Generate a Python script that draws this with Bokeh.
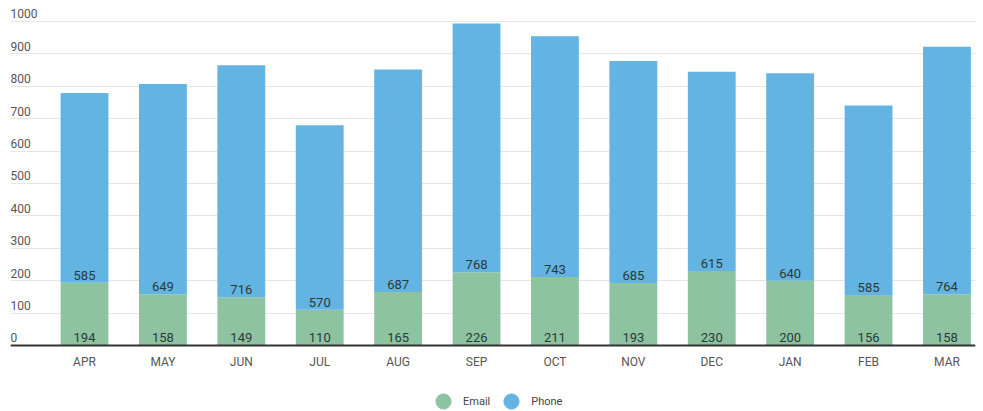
from bokeh.plotting import figure
from bokeh.models import ColumnDataSource, FixedTicker, Legend, LegendItem, Range1d, Span
from bokeh.core.properties import value
from bokeh.embed import file_html
from bokeh.resources import INLINE

months = ["APR", "MAY", "JUN", "JUL", "AUG", "SEP", "OCT", "NOV", "DEC", "JAN", "FEB", "MAR"]
email = [194, 158, 149, 110, 165, 226, 211, 193, 230, 200, 156, 158]
phone = [585, 649, 716, 570, 687, 768, 743, 685, 615, 640, 585, 764]
y_ticks = [0, 100, 200, 300, 400, 500, 600, 700, 800, 900, 1000]

GREEN = "#8ec3a1"
BLUE = "#63b4e3"
FONT = "Roboto"
X0, X1 = -0.944, 11.364

idx = list(range(len(months)))
src = ColumnDataSource(dict(
    x=idx, email=email, phone=phone, month=months,
    email_lbl=[str(v) for v in email],
    phone_lbl=[str(v) for v in phone],
    zero=[0] * len(months),
))

p = figure(width=983, height=411, output_backend="svg", toolbar_location=None,
           x_range=Range1d(X0, X1), y_range=Range1d(-203.7, 1040),
           x_axis_location=None, y_axis_location=None,
           min_border_left=10, min_border_right=8, min_border_top=8, min_border_bottom=0)
p.outline_line_color = None
p.background_fill_color = "white"

# grid
p.ygrid.ticker = FixedTicker(ticks=y_ticks)
p.ygrid.grid_line_color = "#e6e6e6"
p.ygrid.grid_line_width = 1
p.ygrid.bounds = (0, 1000)
p.xgrid.visible = False

# bars
p.vbar_stack(["email", "phone"], x="x", width=0.61, source=src,
             color=[GREEN, BLUE], line_color=None)

# baseline (x axis line)
p.add_layout(Span(location=0, dimension="width", line_color="#333333", line_width=2))

# bar labels
p.text(x="x", y="zero", text="email_lbl", source=src, text_align="center",
       text_baseline="bottom", y_offset=-3, text_font=value(FONT),
       text_font_size="13px", text_color="#2b3a36")
p.text(x="x", y="email", text="phone_lbl", source=src, text_align="center",
       text_baseline="bottom", y_offset=-3, text_font=value(FONT),
       text_font_size="13px", text_color="#2b3a36")

# month labels under the baseline
p.text(x="x", y="zero", text="month", source=src, text_align="center",
       text_baseline="alphabetic", y_offset=17, text_font=value(FONT),
       text_font_size="12px", text_color="#555555")

# y tick labels inside plot, left aligned above grid lines
ysrc = ColumnDataSource(dict(y=y_ticks, t=[str(v) for v in y_ticks],
                             x=[X0] * len(y_ticks)))
p.text(x="x", y="y", text="t", source=ysrc, text_align="left", text_baseline="bottom",
       y_offset=-3, text_font=value(FONT), text_font_size="12px", text_color="#555555")

# legend with circle markers
nan = float("nan")
r_email = p.scatter(x=[nan], y=[nan], marker="circle", size=15, color=GREEN)
r_phone = p.scatter(x=[nan], y=[nan], marker="circle", size=15, color=BLUE)
legend = Legend(items=[LegendItem(label="Email", renderers=[r_email]),
                       LegendItem(label="Phone", renderers=[r_phone])],
                orientation="horizontal", location=(414, -9),
                label_text_font=FONT, label_text_font_size="11px",
                label_text_color="#444444", glyph_width=38, glyph_height=38,
                label_standoff=1, spacing=2, padding=0, margin=0,
                border_line_color=None, background_fill_alpha=0)
p.add_layout(legend, "center")

open("out.html", "w").write(file_html(p, INLINE))
